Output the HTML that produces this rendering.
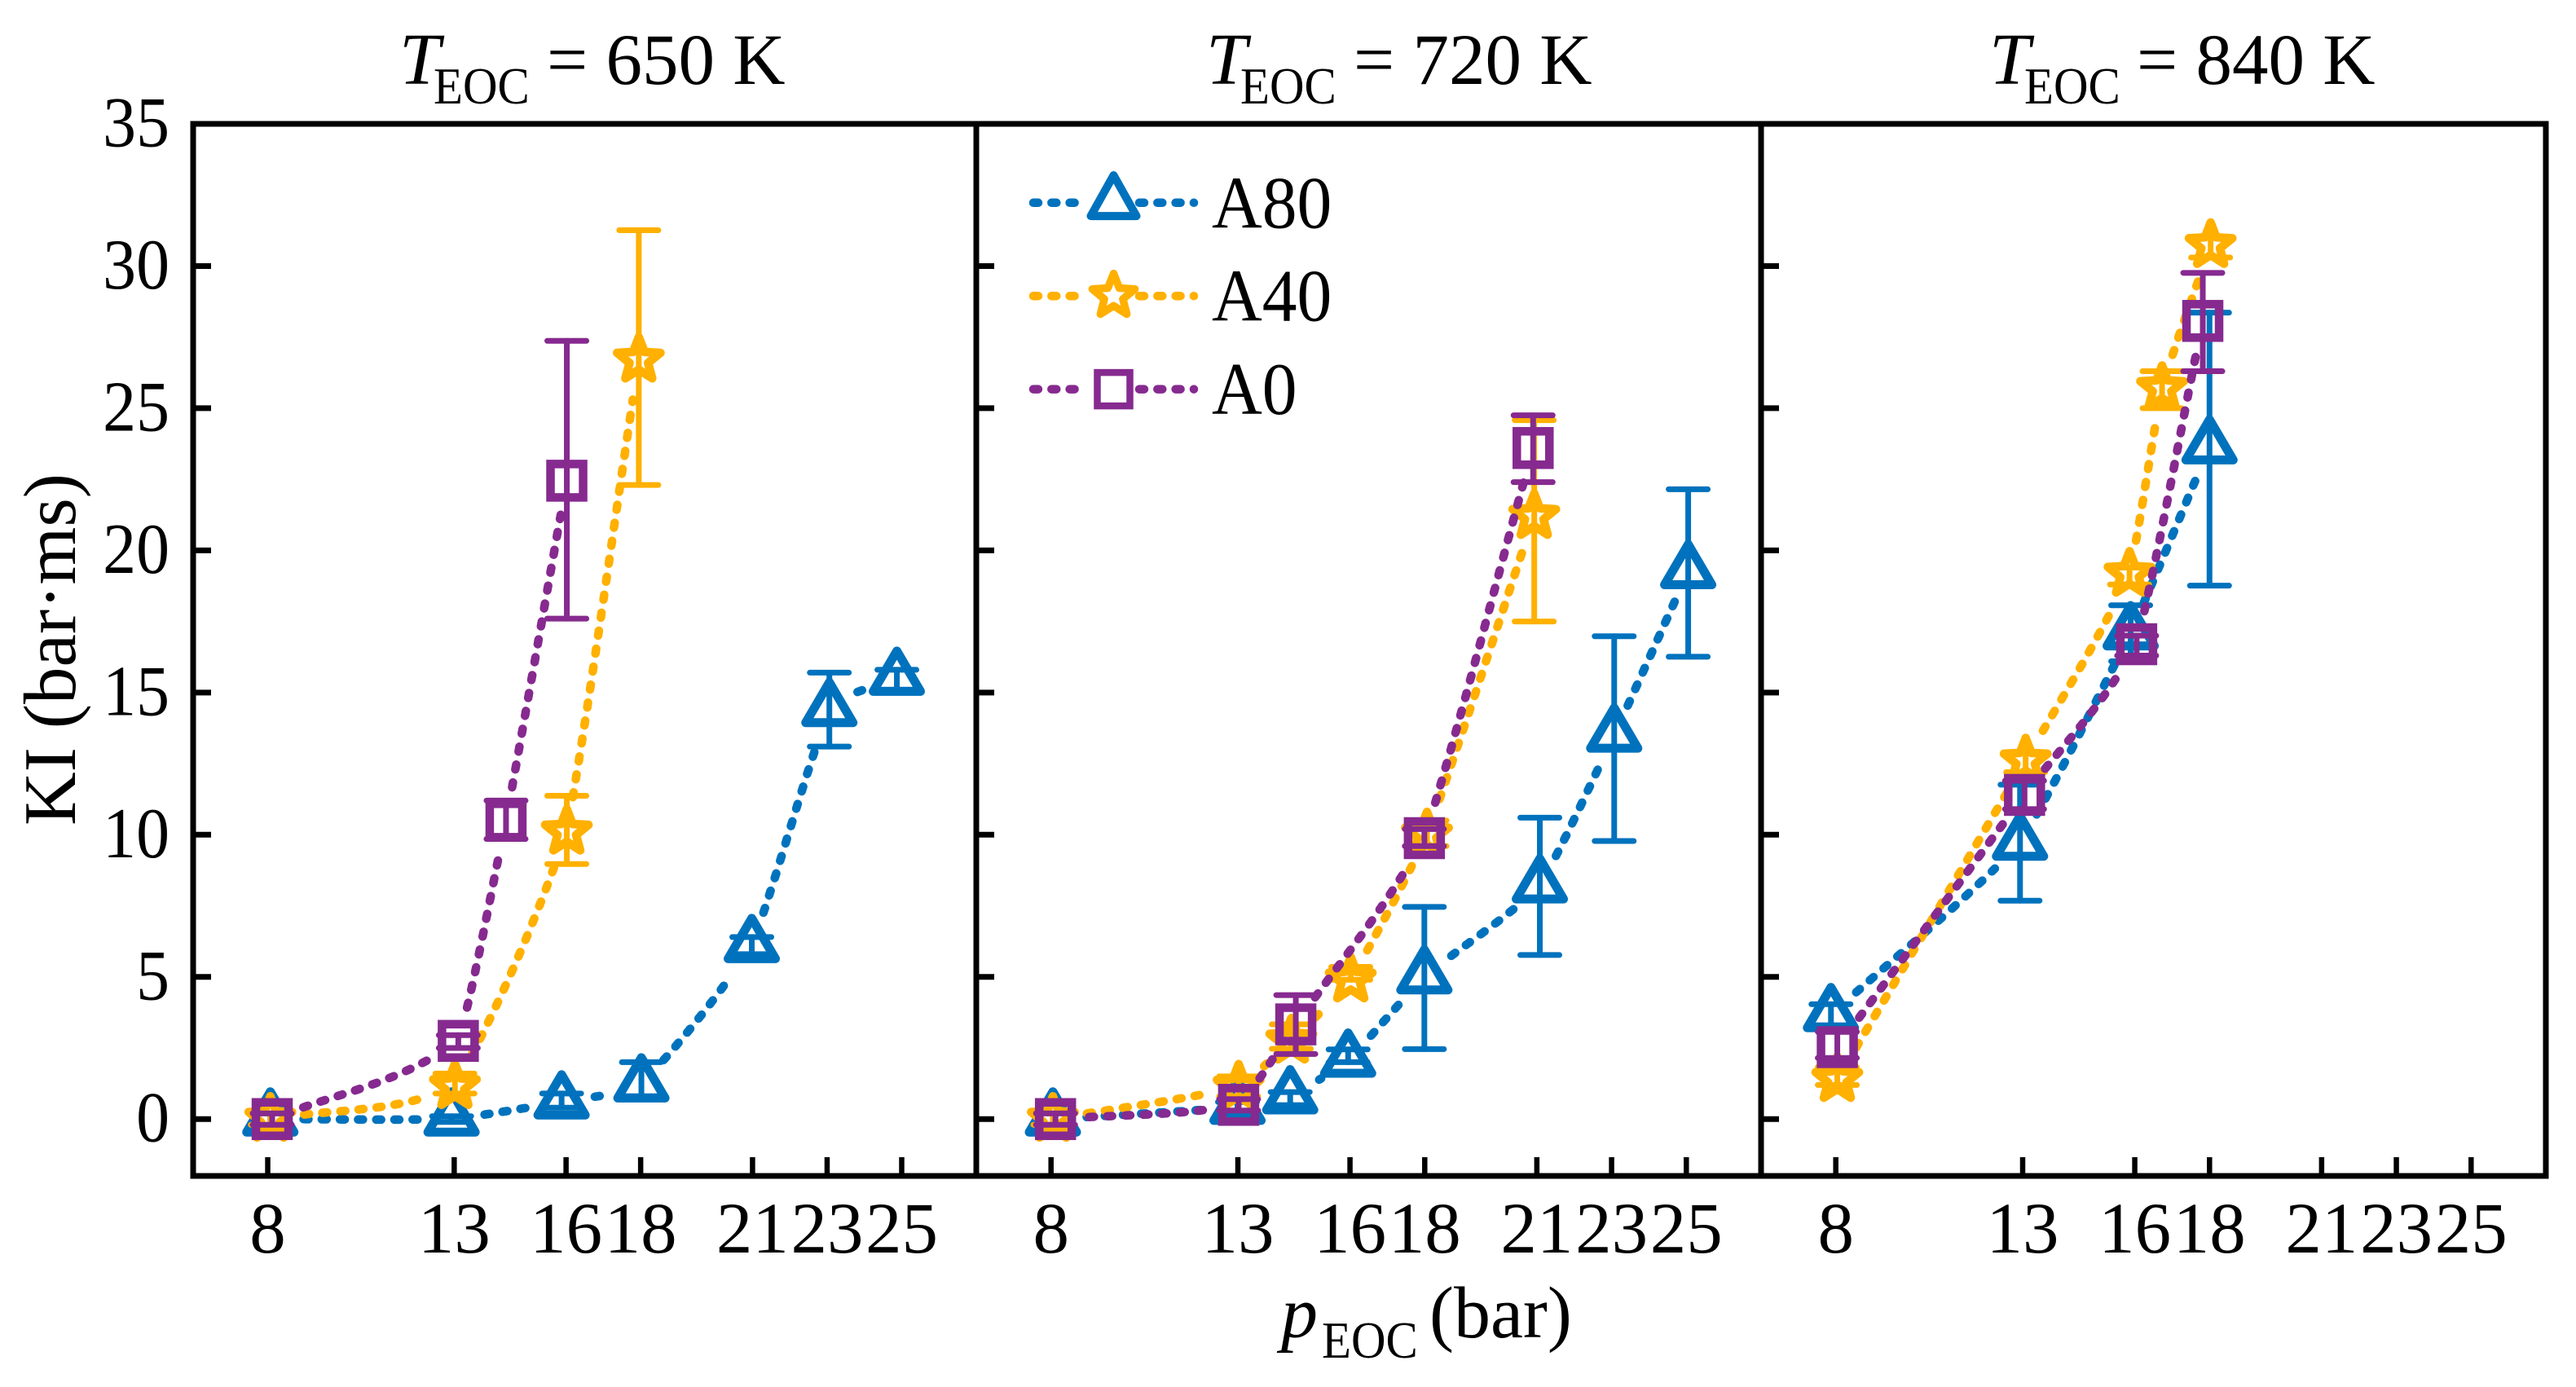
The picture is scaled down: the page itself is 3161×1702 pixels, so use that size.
<!DOCTYPE html>
<html lang="en">
<head>
<meta charset="utf-8">
<title>KI vs pEOC</title>
<style>
html,body{margin:0;padding:0;background:#fff;}
svg{display:block;}
text{font-family:"Liberation Serif","Times New Roman",serif;fill:#000;}
</style>
</head>
<body>
<svg id="chart" xmlns="http://www.w3.org/2000/svg" width="3161" height="1702" viewBox="0 0 3161 1702">
  <rect x="0" y="0" width="3161" height="1702" fill="#fff"/>
  <g>
    <text x="490" y="103" font-size="90" font-style="italic">T</text>
    <text transform="translate(532,127) scale(0.92,1)" font-size="64">EOC</text>
    <text x="671" y="103" font-size="89" xml:space="preserve">= 650 K</text>
  </g>
  <g>
    <text x="1480" y="103" font-size="90" font-style="italic">T</text>
    <text transform="translate(1522,127) scale(0.92,1)" font-size="64">EOC</text>
    <text x="1661" y="103" font-size="89" xml:space="preserve">= 720 K</text>
  </g>
  <g>
    <text x="2441" y="103" font-size="90" font-style="italic">T</text>
    <text transform="translate(2484,127) scale(0.92,1)" font-size="64">EOC</text>
    <text x="2622" y="103" font-size="89" xml:space="preserve">= 840 K</text>
  </g>
  <text transform="translate(92,797) rotate(-90)" text-anchor="middle" font-size="91">KI (bar·ms)</text>
  <g>
    <text x="1572" y="1641" font-size="90" font-style="italic">p</text>
    <text transform="translate(1622,1666) scale(0.92,1)" font-size="64">EOC</text>
    <text x="1754" y="1641" font-size="90">(bar)</text>
  </g>
</svg>
<script>
const yTickValues = [0, 5, 10, 15, 20, 25, 30, 35];
const xTickValues = [8, 13, 16, 18, 21, 23, 25];
const xDomain = [6, 27];
const yDomain = [-2, 35];
const seriesNames = ['A80', 'A40', 'A0'];
const panelTemps = [650, 720, 840];

// T = 650 K
const a80_650_p  = [8.07, 12.93, 15.88, 18.02, 20.98, 23.06, 24.87];
const a80_650_v  = [0, 0, 0.6, 1.2, 6.1, 14.4, 15.5];
const a80_650_hi = [0.2, 0.1, 0.9, 2.0, 6.4, 15.7, 15.8];
const a80_650_lo = [-0.2, -0.1, 0.4, 0.8, 5.8, 13.1, 15.1];
const a40_650_p  = [8.07, 13.02, 16.02, 17.95];
const a40_650_v  = [0, 1.15, 10.1, 26.7];
const a40_650_hi = [0.2, 1.6, 11.37, 31.26];
const a40_650_lo = [-0.2, 0.9, 8.97, 22.3];
const a0_650_p   = [8.12, 13.11, 14.39, 16.02];
const a0_650_v   = [0, 2.75, 10.5, 22.45];
const a0_650_hi  = [0.2, 2.95, 11.2, 27.37];
const a0_650_lo  = [-0.2, 2.5, 9.85, 17.6];

// T = 720 K
const a80_720_p  = [8.05, 12.99, 14.4, 15.95, 17.99, 21.08, 23.07, 25.05];
const a80_720_v  = [0, 0.41, 0.78, 2.07, 5.0, 8.2, 13.5, 19.25];
const a80_720_hi = [0.2, 0.6, 0.95, 2.45, 7.46, 10.6, 16.98, 22.15];
const a80_720_lo = [-0.2, 0.2, 0.49, 2.0, 2.46, 5.77, 9.78, 16.26];
const a40_720_p  = [8.05, 13.02, 14.43, 16.02, 18.06, 20.93];
const a40_720_v  = [0, 1.13, 2.75, 4.9, 10.0, 21.2];
const a40_720_hi = [0.2, 1.5, 3.33, 5.35, 10.5, 24.58];
const a40_720_lo = [-0.2, 0.8, 2.47, 4.9, 9.6, 17.5];
const a0_720_p   = [8.12, 13.02, 14.55, 17.99, 20.9];
const a0_720_v   = [0, 0.5, 3.33, 9.88, 23.6];
const a0_720_hi  = [0.2, 0.7, 4.36, 10.2, 24.75];
const a0_720_lo  = [-0.2, 0.3, 2.29, 9.6, 22.4];

// T = 840 K
const a80_840_p  = [7.87, 12.93, 15.89, 18.0];
const a80_840_v  = [3.67, 9.7, 17.1, 23.64];
const a80_840_hi = [4.04, 11.76, 18.07, 28.36];
const a80_840_lo = [3.3, 7.68, 16.1, 18.76];
const a40_840_p  = [8.04, 13.08, 15.86, 16.73, 18.03];
const a40_840_v  = [1.4, 12.6, 19.17, 25.7, 30.73];
const a40_840_hi = [1.83, 12.9, 19.4, 26.3, 31.0];
const a40_840_lo = [1.2, 12.2, 18.8, 25.0, 30.3];
const a0_840_p   = [8.04, 13.05, 16.05, 17.82];
const a0_840_v   = [2.53, 11.4, 16.7, 28.07];
const a0_840_hi  = [3.07, 11.9, 17.0, 29.76];
const a0_840_lo  = [2.15, 10.9, 16.3, 26.3];

const SVGNS = 'http://www.w3.org/2000/svg';
const svg = document.getElementById('chart');
const COLORS = {A80: '#0072BD', A40: '#FFB000', A0: '#862A8F'};
const PANEL_EDGES = [[237, 1198], [1198, 2161], [2161, 3124]];
const PLOT_TOP = 152;
const PLOT_BOTTOM = 1443;
const LINE_GAP = 40;
const CURVE_BLEND = 0.35;
const LINE_WIDTH = 10.5;
const LINE_DASH = '6 16.3';

function make(tag, attrs, parent) {
  const n = document.createElementNS(SVGNS, tag);
  for (const k in attrs) n.setAttribute(k, attrs[k]);
  (parent || svg).appendChild(n);
  return n;
}
function yScale(v) {
  return PLOT_BOTTOM - (v - yDomain[0]) / (yDomain[1] - yDomain[0]) * (PLOT_BOTTOM - PLOT_TOP);
}
function xScale(panel, p) {
  const e = PANEL_EDGES[panel];
  return e[0] + (p - xDomain[0]) / (xDomain[1] - xDomain[0]) * (e[1] - e[0]);
}
function starPath(R, r) {
  let d = '';
  for (let i = 0; i < 10; i++) {
    const rad = i % 2 ? r : R;
    const a = -Math.PI / 2 + i * Math.PI / 5;
    d += (i ? 'L' : 'M') + (rad * Math.cos(a)).toFixed(2) + ' ' + (rad * Math.sin(a)).toFixed(2);
  }
  return d + 'Z';
}
function drawMarker(parent, name, cx, cy, inLegend) {
  const color = COLORS[name];
  let m;
  if (name === 'A80') {
    const triPath = inLegend ? 'M0 -33.7L28 16.3L-28 16.3Z' : 'M0 -33.5L29 16L-29 16Z';
    m = make('path', {d: triPath, fill: 'none', stroke: color, 'stroke-width': inLegend ? 10 : 11, 'stroke-linejoin': 'round', transform: 'translate(' + cx + ',' + cy + ')'}, parent);
  } else if (name === 'A40') {
    m = make('path', {d: starPath(inLegend ? 27.5 : 28, 12), fill: 'none', stroke: color, 'stroke-width': inLegend ? 9.5 : 10.5, 'stroke-linejoin': 'round', transform: 'translate(' + cx + ',' + cy + ')'}, parent);
  } else {
    m = make('rect', {x: cx - 20, y: cy - 20.5, width: 40, height: 41, fill: 'none', stroke: color, 'stroke-width': inLegend ? 8.5 : 10.5}, parent);
  }
  
  
  return m;
}
function tangents(xs, ys) {
  const n = xs.length;
  const m = [];
  for (let i = 0; i < n; i++) {
    if (i === 0) m.push((ys[1] - ys[0]) / (xs[1] - xs[0]));
    else if (i === n - 1) m.push((ys[n - 1] - ys[n - 2]) / (xs[n - 1] - xs[n - 2]));
    else m.push((ys[i + 1] - ys[i - 1]) / (xs[i + 1] - xs[i - 1]));
  }
  return m;
}
function drawCurve(parent, name, xs, ys) {
  const m = tangents(xs, ys);
  const runs = [];
  let run = [];
  for (let i = 0; i < xs.length - 1; i++) {
    const h = xs[i + 1] - xs[i];
    const sec = (ys[i + 1] - ys[i]) / h;
    const m0 = sec + CURVE_BLEND * (m[i] - sec);
    const m1 = sec + CURVE_BLEND * (m[i + 1] - sec);
    for (let s = 0; s <= 60; s++) {
      const t = s / 60;
      const t2 = t * t;
      const t3 = t2 * t;
      const x = xs[i] + t * h;
      const y = (2 * t3 - 3 * t2 + 1) * ys[i] + (t3 - 2 * t2 + t) * h * m0 + (-2 * t3 + 3 * t2) * ys[i + 1] + (t3 - t2) * h * m1;
      let near = false;
      for (let k = 0; k < xs.length; k++) {
        if (Math.hypot(x - xs[k], y - ys[k]) < LINE_GAP) near = true;
      }
      if (near) {
        if (run.length > 1) runs.push(run);
        run = [];
      } else {
        run.push(x.toFixed(1) + ' ' + y.toFixed(1));
      }
    }
  }
  if (run.length > 1) runs.push(run);
  runs.forEach(function (r) {
    const line = make('path', {d: 'M' + r.join('L'), fill: 'none', stroke: COLORS[name], 'stroke-width': LINE_WIDTH, 'stroke-linecap': 'round', 'stroke-dasharray': LINE_DASH}, parent);
    
    
  });
}
function drawErrorBar(parent, name, x, hi, lo) {
  const group = make('g', {stroke: COLORS[name], 'stroke-width': 7, 'stroke-linecap': 'round', fill: 'none'}, parent);
  
  
  make('line', {x1: x, x2: x, y1: yScale(hi), y2: yScale(lo)}, group);
  make('line', {x1: x - 24, x2: x + 24, y1: yScale(hi), y2: yScale(hi)}, group);
  make('line', {x1: x - 24, x2: x + 24, y1: yScale(lo), y2: yScale(lo)}, group);
}

const panelSeries = [
  [
    ['A80', a80_650_p, a80_650_v, a80_650_hi, a80_650_lo],
    ['A40', a40_650_p, a40_650_v, a40_650_hi, a40_650_lo],
    ['A0', a0_650_p, a0_650_v, a0_650_hi, a0_650_lo]
  ],
  [
    ['A80', a80_720_p, a80_720_v, a80_720_hi, a80_720_lo],
    ['A40', a40_720_p, a40_720_v, a40_720_hi, a40_720_lo],
    ['A0', a0_720_p, a0_720_v, a0_720_hi, a0_720_lo]
  ],
  [
    ['A80', a80_840_p, a80_840_v, a80_840_hi, a80_840_lo],
    ['A40', a40_840_p, a40_840_v, a40_840_hi, a40_840_lo],
    ['A0', a0_840_p, a0_840_v, a0_840_hi, a0_840_lo]
  ]
];

panelTemps.forEach(function (temp, pi) {
  const edge = PANEL_EDGES[pi];
  const panel = make('g', {});
  
  

  panelSeries[pi].forEach(function (s) {
    const name = s[0];
    const group = make('g', {}, panel);
    
    
    const xs = s[1].map(function (p) { return xScale(pi, p); });
    const ys = s[2].map(yScale);
    xs.forEach(function (x, i) { drawErrorBar(group, name, x, s[3][i], s[4][i]); });
    drawCurve(group, name, xs, ys);
    xs.forEach(function (x, i) { drawMarker(group, name, x, ys[i], false); });
  });

  yTickValues.forEach(function (v) {
    if (v === 35) return;
    const tick = make('line', {x1: edge[0], x2: edge[0] + 22, y1: yScale(v), y2: yScale(v), stroke: '#000', 'stroke-width': 7}, panel);
    
    
  });
  xTickValues.forEach(function (p) {
    const x = xScale(pi, p);
    const tick = make('line', {x1: x, x2: x, y1: PLOT_BOTTOM, y2: PLOT_BOTTOM - 23, stroke: '#000', 'stroke-width': 6.5}, panel);
    
    
    const label = make('text', {x: x, y: 1537, 'font-size': 89, 'text-anchor': 'middle'}, panel);
    label.textContent = String(p);
    
    
  });
  const frame = make('rect', {x: edge[0], y: PLOT_TOP, width: edge[1] - edge[0], height: PLOT_BOTTOM - PLOT_TOP, fill: 'none', stroke: '#000', 'stroke-width': 7}, panel);
  
  
});

yTickValues.forEach(function (v) {
  const label = make('text', {'font-size': 88, 'text-anchor': 'end', transform: 'translate(208,' + (yScale(v) + 27.5) + ') scale(0.93,1)'});
  label.textContent = String(v);
  
  
});

const legend = make('g', {});


seriesNames.forEach(function (name, i) {
  const rowY = 248.8 + i * 114.4;
  const entry = make('g', {}, legend);
  
  
  [[1268, 1334], [1398, 1465]].forEach(function (seg) {
    const line = make('line', {x1: seg[0], x2: seg[1], y1: rowY, y2: rowY, stroke: COLORS[name], 'stroke-width': LINE_WIDTH, 'stroke-linecap': 'round', 'stroke-dasharray': LINE_DASH}, entry);
    
    
  });
  drawMarker(entry, name, 1366.5, rowY, true);
  const label = make('text', {'font-size': 91, transform: 'translate(1487,' + (rowY + 30.5) + ') scale(0.94,1)'}, entry);
  label.textContent = name;
  
  
});
</script>
</body>
</html>
